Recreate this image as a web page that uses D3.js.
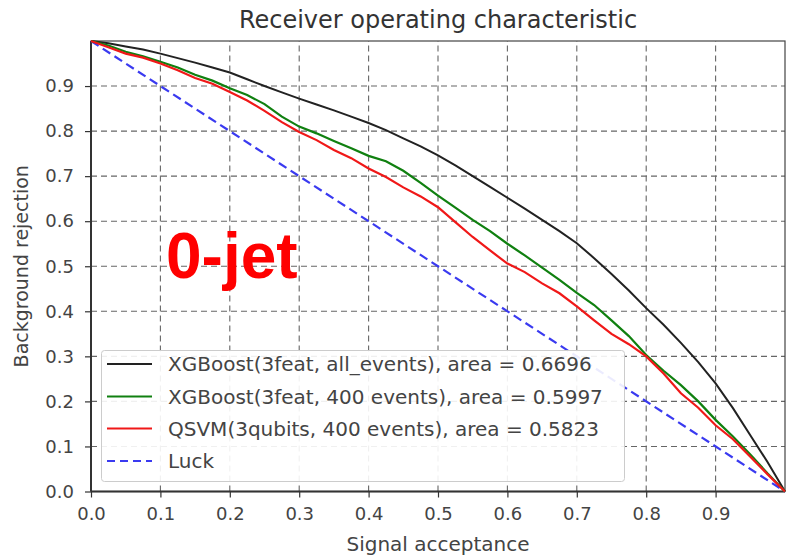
<!DOCTYPE html>
<html>
<head>
<meta charset="utf-8">
<script src="https://cdn.jsdelivr.net/npm/d3@7"></script>
<style>
  body { margin: 0; background: #fff; }
  svg { display: block; font-family: "DejaVu Sans", sans-serif; }
</style>
</head>
<body>
<div id="chart"></div>
<script>
// Signal acceptance grid the curves were read at
const acceptance = [0, 0.025, 0.05, 0.075, 0.1, 0.125, 0.15, 0.175, 0.2, 0.225, 0.25, 0.275, 0.3, 0.325, 0.35, 0.375, 0.4, 0.425, 0.45, 0.475, 0.5, 0.525, 0.55, 0.575, 0.6, 0.625, 0.65, 0.675, 0.7, 0.725, 0.75, 0.775, 0.8, 0.825, 0.85, 0.875, 0.9, 0.925, 0.95, 0.975, 1];

// Background rejection per series
const xgbAll = [1, 0.995, 0.988, 0.981, 0.972, 0.962, 0.952, 0.941, 0.930, 0.915, 0.900, 0.886, 0.872, 0.859, 0.846, 0.832, 0.818, 0.802, 0.784, 0.766, 0.746, 0.724, 0.700, 0.676, 0.652, 0.628, 0.603, 0.578, 0.551, 0.518, 0.483, 0.446, 0.407, 0.370, 0.330, 0.287, 0.240, 0.185, 0.125, 0.065, 0];
const xgb400 = [1, 0.990, 0.976, 0.966, 0.954, 0.941, 0.925, 0.912, 0.895, 0.880, 0.860, 0.832, 0.810, 0.795, 0.778, 0.762, 0.745, 0.733, 0.712, 0.685, 0.657, 0.630, 0.603, 0.578, 0.550, 0.524, 0.497, 0.470, 0.441, 0.414, 0.380, 0.345, 0.303, 0.268, 0.236, 0.200, 0.159, 0.122, 0.082, 0.040, 0];
const qsvm400 = [1, 0.986, 0.972, 0.963, 0.950, 0.935, 0.918, 0.905, 0.887, 0.868, 0.845, 0.820, 0.798, 0.780, 0.758, 0.740, 0.717, 0.698, 0.675, 0.655, 0.631, 0.598, 0.565, 0.535, 0.506, 0.487, 0.462, 0.440, 0.411, 0.380, 0.350, 0.327, 0.300, 0.262, 0.218, 0.186, 0.147, 0.116, 0.077, 0.038, 0];
const luck = [1, 0];
const luckX = [0, 1];

const seriesNames = [
  'XGBoost(3feat, all_events), area = 0.6696',
  'XGBoost(3feat, 400 events), area = 0.5997',
  'QSVM(3qubits, 400 events), area = 0.5823',
  'Luck'
];
const tickLabels = [0, 0.1, 0.2, 0.3, 0.4, 0.5, 0.6, 0.7, 0.8, 0.9];

const width = 786, height = 558;
const margin = { top: 41, right: 1, bottom: 66.5, left: 91 };

const svg = d3.select('#chart').append('svg')
  .attr('width', width)
  .attr('height', height);

const x = d3.scaleLinear().domain([0, 1]).range([margin.left, width - margin.right]);
const y = d3.scaleLinear().domain([0, 1]).range([height - margin.bottom, margin.top]);

// Grid
const grid = svg.append('g');
grid.selectAll('line.gx')
  .data(tickLabels.slice(1))
  .enter().append('line')
  .attr('x1', d => x(d)).attr('x2', d => x(d))
  .attr('y1', y(0)).attr('y2', y(1))
  .attr('stroke', '#666').attr('stroke-width', 1.1)
  .attr('stroke-dasharray', '6,4');
grid.selectAll('line.gy')
  .data(tickLabels.slice(1))
  .enter().append('line')
  .attr('y1', d => y(d)).attr('y2', d => y(d))
  .attr('x1', x(0)).attr('x2', x(1))
  .attr('stroke', '#666').attr('stroke-width', 1.1)
  .attr('stroke-dasharray', '6,4');

// Axes
const xAxis = svg.append('g')
  .attr('transform', `translate(0,${y(0)})`)
  .call(d3.axisBottom(x).tickValues(tickLabels).tickFormat(d3.format('.1f')).tickSize(6).tickPadding(10));
const yAxis = svg.append('g')
  .attr('transform', `translate(${x(0)},0)`)
  .call(d3.axisLeft(y).tickValues(tickLabels).tickFormat(d3.format('.1f')).tickSize(6).tickPadding(11));
[xAxis, yAxis].forEach(a => {
  a.select('.domain').remove();
  a.selectAll('.tick line').attr('stroke', '#333').attr('stroke-width', 1.2);
  a.selectAll('.tick text')
    .attr('fill', '#444')
    .style('font-size', '18px')
    .style('font-family', '"DejaVu Sans", sans-serif');
});

// Frame
svg.append('rect')
  .attr('x', x(0)).attr('y', y(1))
  .attr('width', x(1) - x(0)).attr('height', y(0) - y(1))
  .attr('fill', 'none').attr('stroke', '#444').attr('stroke-width', 1.2);
svg.append('line')
  .attr('x1', x(0)).attr('x2', x(0)).attr('y1', y(1)).attr('y2', y(0))
  .attr('stroke', '#333').attr('stroke-width', 2);
svg.append('line')
  .attr('x1', x(0)).attr('x2', x(1)).attr('y1', y(0)).attr('y2', y(0))
  .attr('stroke', '#333').attr('stroke-width', 2);

// Curves
const line = d3.line().x(d => x(d[0])).y(d => y(d[1]));
const plot = svg.append('g');
plot.append('path')
  .datum(luckX.map((v, i) => [v, luck[i]]))
  .attr('d', line).attr('fill', 'none')
  .attr('stroke', '#3a3af0').attr('stroke-width', 2.2)
  .attr('stroke-dasharray', '9,5');
plot.append('path')
  .datum(acceptance.map((v, i) => [v, xgbAll[i]]))
  .attr('d', line).attr('fill', 'none')
  .attr('stroke', '#222').attr('stroke-width', 2);
plot.append('path')
  .datum(acceptance.map((v, i) => [v, xgb400[i]]))
  .attr('d', line).attr('fill', 'none')
  .attr('stroke', '#108010').attr('stroke-width', 2.2);
plot.append('path')
  .datum(acceptance.map((v, i) => [v, qsvm400[i]]))
  .attr('d', line).attr('fill', 'none')
  .attr('stroke', '#f01818').attr('stroke-width', 2.2);

// Title and labels
svg.append('text')
  .attr('x', (x(0) + x(1)) / 2).attr('y', 28)
  .attr('text-anchor', 'middle')
  .attr('fill', '#333')
  .style('font-size', '24px')
  .text('Receiver operating characteristic');
svg.append('text')
  .attr('x', (x(0) + x(1)) / 2).attr('y', 551)
  .attr('text-anchor', 'middle')
  .attr('fill', '#444')
  .style('font-size', '20px')
  .text('Signal acceptance');
svg.append('text')
  .attr('transform', `translate(28,${(y(0) + y(1)) / 2}) rotate(-90)`)
  .attr('text-anchor', 'middle')
  .attr('fill', '#444')
  .style('font-size', '19px')
  .text('Background rejection');

svg.append('text')
  .attr('x', 166).attr('y', 278)
  .attr('fill', '#ff0000')
  .style('font-family', '"Liberation Sans", Arial, sans-serif')
  .style('font-weight', 'bold')
  .style('font-size', '64px')
  .text('0-jet');

// Legend
const legend = svg.append('g');
legend.append('rect')
  .attr('x', 101.5).attr('y', 350.5)
  .attr('width', 523).attr('height', 131)
  .attr('rx', 3)
  .attr('fill', '#fff').attr('fill-opacity', 0.9)
  .attr('stroke', '#ccc').attr('stroke-width', 1);
const legendStyles = [
  { color: '#222', dash: null },
  { color: '#108010', dash: null },
  { color: '#f01818', dash: null },
  { color: '#3a3af0', dash: '8,5' }
];
const rowY = [364, 396.5, 428.5, 461];
seriesNames.forEach((name, i) => {
  legend.append('line')
    .attr('x1', 107).attr('x2', 152)
    .attr('y1', rowY[i]).attr('y2', rowY[i])
    .attr('stroke', legendStyles[i].color).attr('stroke-width', 2.2)
    .attr('stroke-dasharray', legendStyles[i].dash);
  legend.append('text')
    .attr('x', 168).attr('y', rowY[i] + 7)
    .attr('fill', '#444')
    .style('font-size', '20px')
    .text(name);
});
</script>
</body>
</html>
